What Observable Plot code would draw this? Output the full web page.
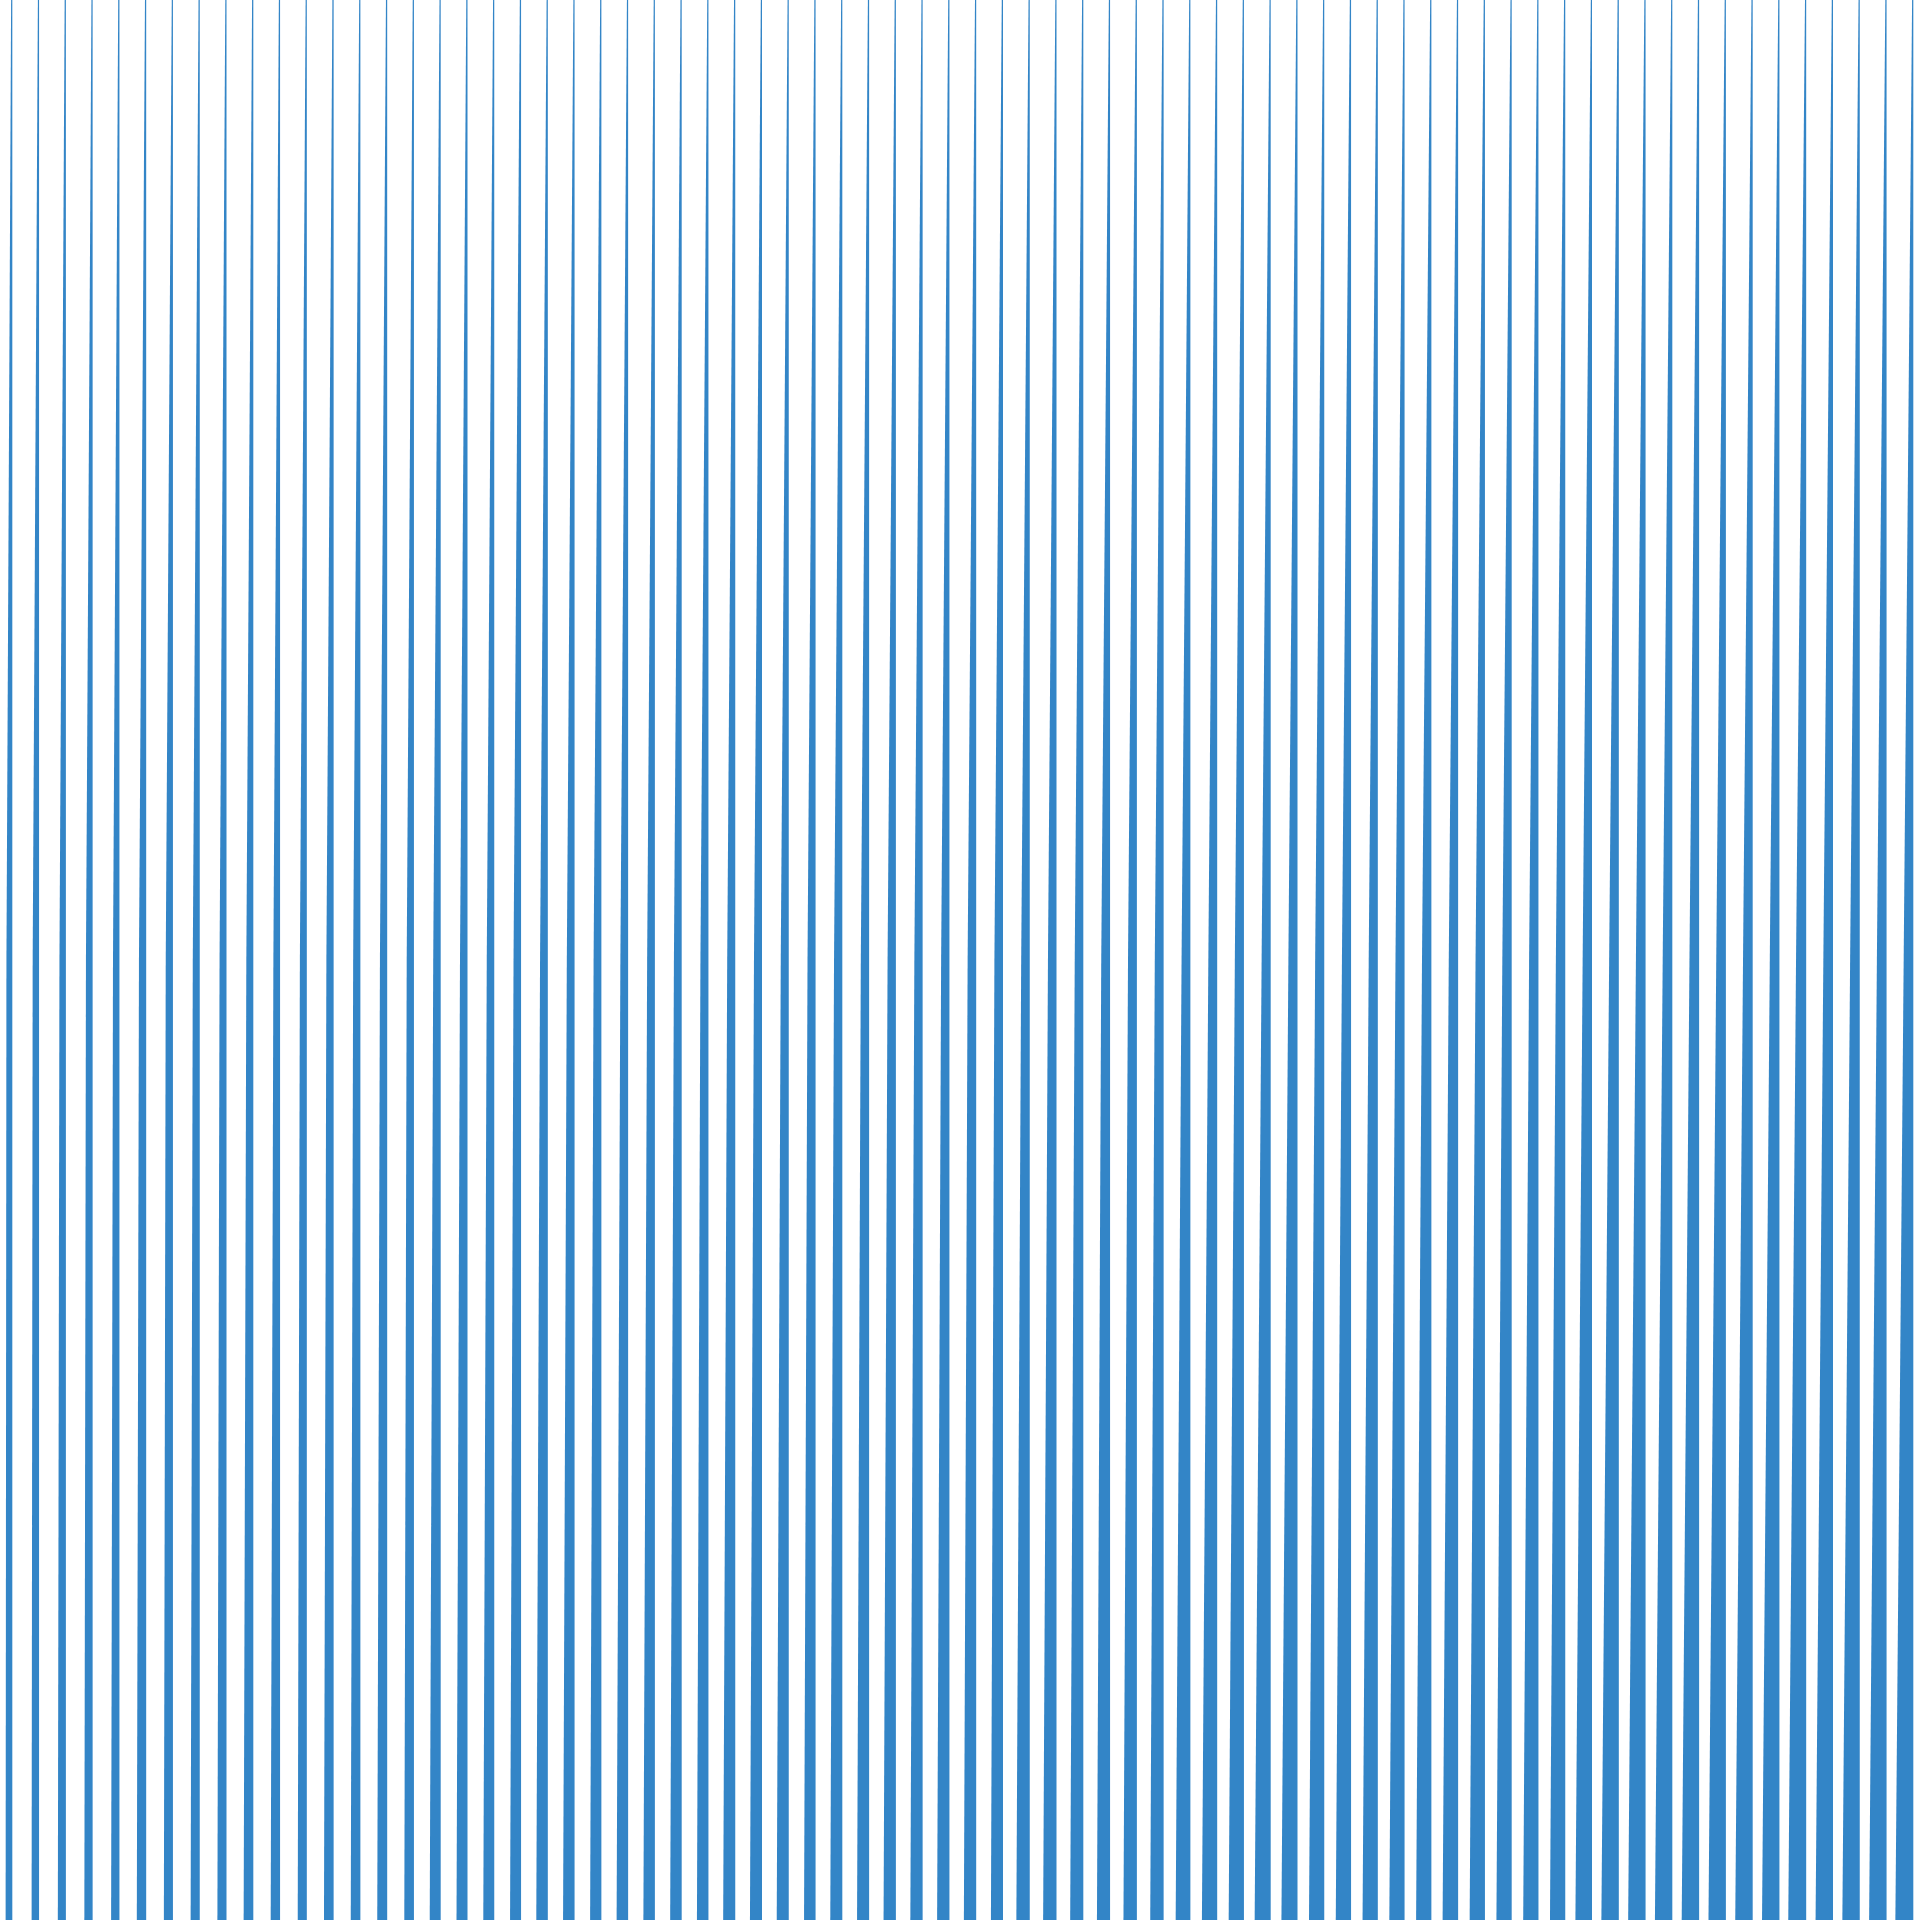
<!DOCTYPE html>
<html>
<head>
<meta charset="utf-8">
<script src="https://cdn.jsdelivr.net/npm/d3@7"></script>
<script src="https://cdn.jsdelivr.net/npm/@observablehq/plot@0.6"></script>
<style>
  html, body { margin: 0; padding: 0; background: #ffffff; overflow: hidden; }
  #chart svg { display: block; }
</style>
</head>
<body>
<div id="chart"></div>
<script>
// Stripe categories (one wedge per index)
const stripes = d3.range(72);

// Wedge spread (in stripe units) read at three heights: top, middle, bottom
const spreadTop = stripes.map(() => 0.045);
const spreadMid = [
  0.22, 0.24, 0.24, 0.25, 0.24, 0.27, 0.27, 0.26, 0.26, 0.26, 0.25, 0.26, 0.27, 0.27, 0.27,
  0.27, 0.28, 0.28, 0.28, 0.28, 0.29, 0.29, 0.29, 0.29, 0.29, 0.29, 0.30, 0.30, 0.30, 0.30,
  0.30, 0.31, 0.31, 0.31, 0.31, 0.31, 0.32, 0.32, 0.32, 0.32, 0.32, 0.33, 0.33, 0.33, 0.33,
  0.33, 0.34, 0.34, 0.34, 0.34, 0.34, 0.34, 0.34, 0.35, 0.35, 0.35, 0.35, 0.35, 0.35, 0.35,
  0.36, 0.36, 0.36, 0.36, 0.36, 0.36, 0.36, 0.38, 0.36, 0.36, 0.36, 0.36
];
const spreadBottom = [
  0.25, 0.28, 0.30, 0.31, 0.31, 0.35, 0.34, 0.34, 0.34, 0.36, 0.35, 0.34, 0.36, 0.36, 0.37,
  0.36, 0.41, 0.41, 0.41, 0.41, 0.43, 0.43, 0.42, 0.43, 0.43, 0.43, 0.43, 0.45, 0.45, 0.45,
  0.43, 0.45, 0.45, 0.46, 0.46, 0.46, 0.46, 0.45, 0.50, 0.50, 0.49, 0.49, 0.50, 0.50, 0.55,
  0.57, 0.57, 0.60, 0.60, 0.57, 0.57, 0.57, 0.57, 0.57, 0.58, 0.57, 0.57, 0.57, 0.57, 0.62,
  0.65, 0.65, 0.65, 0.65, 0.65, 0.65, 0.65, 0.67, 0.65, 0.65, 0.65, 0.67
];
// Height levels (1 = top, 0 = bottom)
const levels = [1, 0.5, 0];

const color = "#3385c7";

// Build a long table for the area mark
const rows = [];
stripes.forEach((s, i) => {
  const spreads = [spreadTop[i], spreadMid[i], spreadBottom[i]];
  levels.forEach((lv, j) => {
    rows.push({stripe: s, level: lv, left: s - spreads[j], right: s});
  });
});

const chart = Plot.plot({
  width: 1920,
  height: 1920,
  margin: 0,
  x: {domain: [-0.46, 71.25], axis: null},
  y: {domain: [0, 1], axis: null},
  marks: [
    Plot.areaX(rows, {y: "level", x1: "left", x2: "right", z: "stripe", fill: color})
  ]
});
document.getElementById("chart").appendChild(chart);
</script>
</body>
</html>
